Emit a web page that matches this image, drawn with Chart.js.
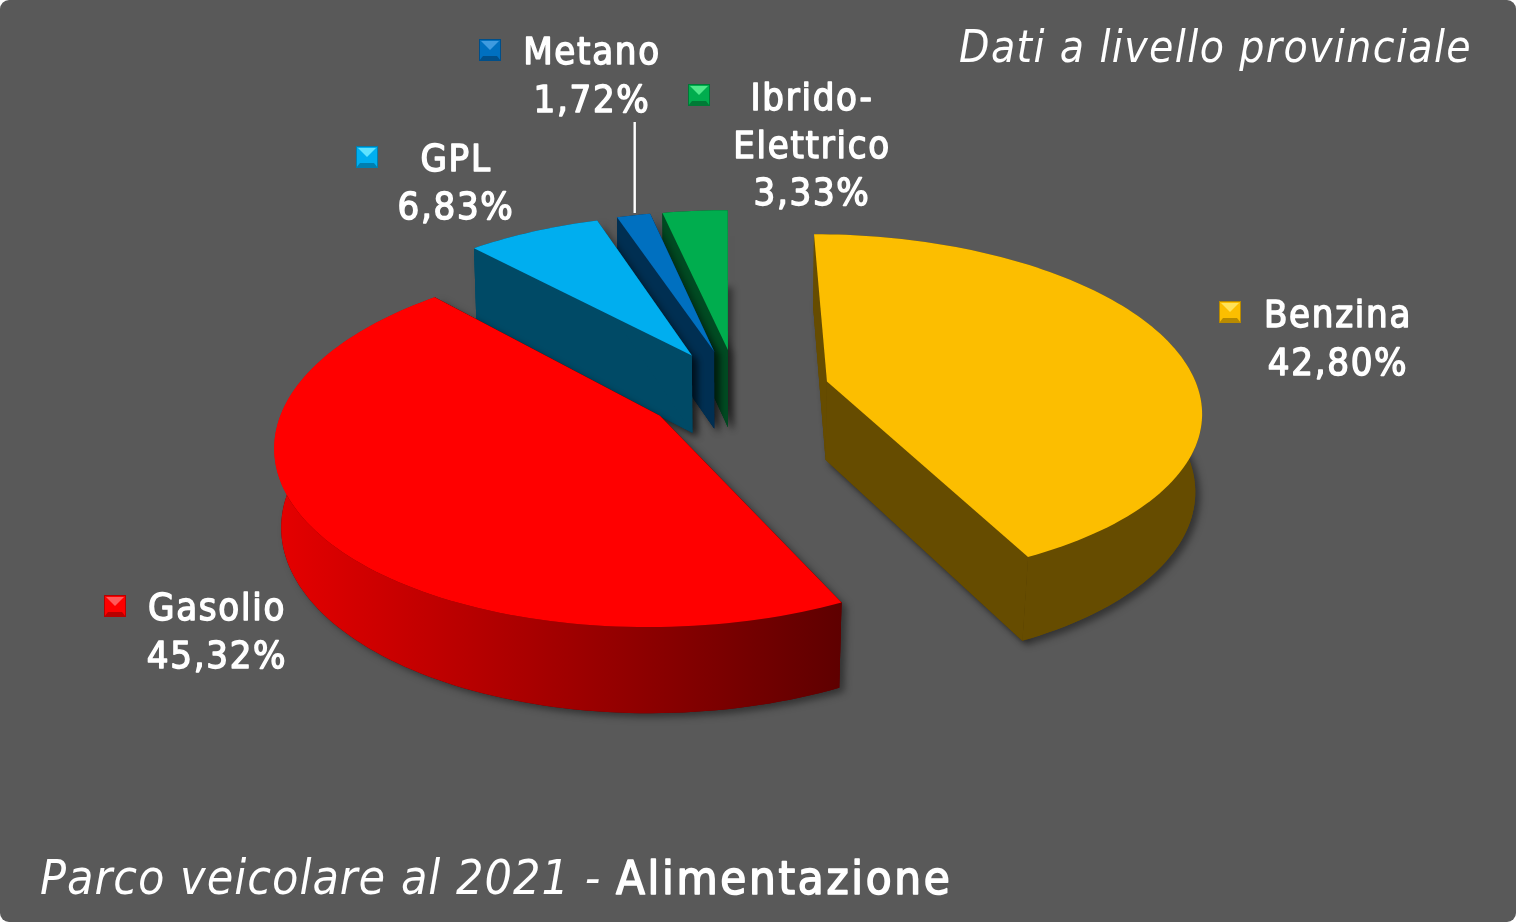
<!DOCTYPE html>
<html>
<head>
<meta charset="utf-8">
<title>Parco veicolare al 2021 - Alimentazione</title>
<script src="https://cdn.jsdelivr.net/npm/chart.js@4"></script>
<style>
	html, body { margin: 0; padding: 0; background: #fff; }
	#myChart { display: block; background: #595959; border-radius: 9px; }
</style>
</head>
<body>
<canvas id="myChart" width="1516" height="922"></canvas>
<script>
const categories = ['Benzina', 'Gasolio', 'GPL', 'Metano', 'Ibrido-Elettrico'];
const shares = [42.80, 45.32, 6.83, 1.72, 3.33];
const topColors = ['#FCBE00', '#FF0000', '#00AEEF', '#0070C0', '#00AD4E'];
const wallColors = [['#664C00', '#664C00'], ['#E60000', '#5E0000'], ['#004A66', '#004A66'], ['#002F52', '#002F52'], ['#004B22', '#004B22']];
const bevelColors = [['#FFE25A', '#B88A00'], ['#FF5A5A', '#B80000'], ['#5FE3FF', '#007FB0'], ['#3F9BE0', '#004F8A'], ['#4FE88A', '#007A36']];

const titleLeft = 'Parco veicolare al 2021 - ';
const titleBold = 'Alimentazione';
const subtitle = 'Dati a livello provinciale';

// label centre x, first line y, marker x, marker y
const labelSpots = [
	[1338, 317, 1219, 301],
	[217, 610, 104, 595],
	[456, 161, 356, 146],
	[592, 54, 479, 39],
	[812, 100, 688, 84]
];

const view = { cx: 726.5, cy: 401.5, sx: 375, sy: 175, k: 0.15, x0: 0.03, y0: -0.06 };

function project(x, y) {
	const w = 1 - view.k * (y + view.y0);
	return [view.cx + view.sx * (x + view.x0) / w, view.cy + view.sy * (y + view.y0) / w];
}

function dropDown(p) {
	const squeeze = 1 - (0.002 + 0.00003 * p[1]);
	return [view.cx + (p[0] - view.cx) * squeeze, p[1] + 66 + 0.032 * p[1]];
}

function tracePoly(ctx, pts) {
	ctx.beginPath();
	pts.forEach((p, i) => i ? ctx.lineTo(p[0], p[1]) : ctx.moveTo(p[0], p[1]));
	ctx.closePath();
}

function sliceGeometry(arc) {
	const mid = (arc.startAngle + arc.endAngle) / 2;
	const off = arc.options.offset / arc.outerRadius;
	const ax = off * Math.cos(mid);
	const ay = off * Math.sin(mid);
	const rim = [];
	const steps = Math.ceil((arc.endAngle - arc.startAngle) * 40);
	for (let i = 0; i <= steps; i++) {
		const a = arc.startAngle + (arc.endAngle - arc.startAngle) * i / steps;
		rim.push(project(ax + Math.cos(a), ay + Math.sin(a)));
	}
	return { apex: project(ax, ay), rim: rim };
}

function drawMarker(ctx, x, y, s, i) {
	const c = s / 2;
	ctx.fillStyle = topColors[i];
	ctx.fillRect(x, y, s, s);
	ctx.fillStyle = bevelColors[i][0];
	tracePoly(ctx, [[x + 2, y + 2], [x + s - 2, y + 2], [x + c, y + c]]);
	ctx.fill();
	ctx.fillStyle = bevelColors[i][1];
	tracePoly(ctx, [[x, y + s], [x + s, y + s], [x + s - 4, y + s - 5], [x + 4, y + s - 5]]);
	ctx.fill();
	ctx.strokeStyle = bevelColors[i][1];
	ctx.lineWidth = 1;
	ctx.strokeRect(x + 0.5, y + 0.5, s - 1, s - 1);
}

// regular face thickened by a thin stroke, the installed bold is too heavy
function heavyText(ctx, text, x, y, weight) {
	ctx.lineWidth = weight;
	ctx.lineJoin = 'round';
	ctx.strokeStyle = ctx.fillStyle;
	ctx.strokeText(text, x, y);
	ctx.fillText(text, x, y);
}

const pie3d = {
	id: 'pie3d',
	beforeDatasetDraw(chart) {
		const ctx = chart.ctx;
		const arcs = chart.getDatasetMeta(0).data;
		for (let i = arcs.length - 1; i >= 0; i--) {
			const { apex, rim } = sliceGeometry(arcs[i]);
			const lowRim = rim.map(dropDown);
			const lowApex = dropDown(apex);
			const xs = rim.map(p => p[0]);
			const wall = ctx.createLinearGradient(Math.min(...xs), 0, Math.max(...xs), 0);
			wall.addColorStop(0, wallColors[i][0]);
			wall.addColorStop(1, wallColors[i][1]);
			const firstCut = [apex, rim[0], lowRim[0], lowApex];
			const lastCut = [apex, rim[rim.length - 1], lowRim[lowRim.length - 1], lowApex];

			// soft shadow under the whole slice
			ctx.save();
			ctx.shadowColor = 'rgba(0,0,0,0.42)';
			ctx.shadowBlur = 7;
			ctx.shadowOffsetX = 5;
			ctx.shadowOffsetY = 4;
			ctx.fillStyle = wallColors[i][1];
			tracePoly(ctx, [lowApex, ...lowRim]);
			ctx.fill();
			tracePoly(ctx, firstCut);
			ctx.fill();
			tracePoly(ctx, lastCut);
			ctx.fill();
			ctx.restore();

			// cut faces
			ctx.fillStyle = wallColors[i][1];
			tracePoly(ctx, firstCut);
			ctx.fill();
			tracePoly(ctx, lastCut);
			ctx.fill();

			// outer wall
			ctx.fillStyle = wall;
			tracePoly(ctx, [...rim, ...lowRim.slice().reverse()]);
			ctx.fill();

			// top
			ctx.fillStyle = topColors[i];
			tracePoly(ctx, [apex, ...rim]);
			ctx.fill();
		}
		return false;
	},
	afterDraw(chart) {
		const ctx = chart.ctx;
		ctx.save();
		ctx.textBaseline = 'middle';
		ctx.textAlign = 'center';

		// leader of the Metano label
		ctx.fillStyle = '#fff';
		ctx.fillRect(633.5, 122, 2.4, 91);

		categories.forEach((name, i) => {
			const [lx, ly, mx, my] = labelSpots[i];
			const cut = name.indexOf('-') + 1;
			const lines = cut ? [name.slice(0, cut), name.slice(cut)] : [name];
			lines.push(shares[i].toFixed(2).replace('.', ',') + '%');
			drawMarker(ctx, mx, my, 22, i);
			ctx.save();
			ctx.font = '38px "DejaVu Sans Condensed"';
			ctx.letterSpacing = '1.7px';
			ctx.fillStyle = '#fff';
			lines.forEach((t, j) => heavyText(ctx, t, lx, ly + j * 47.7, 1.4));
			ctx.restore();
		});

		ctx.fillStyle = '#fff';
		ctx.textAlign = 'left';
		ctx.textBaseline = 'alphabetic';
		ctx.font = 'oblique 44px "DejaVu Sans Condensed"';
		ctx.letterSpacing = '1.4px';
		ctx.fillText(subtitle, 959, 62);
		ctx.font = 'oblique 48px "DejaVu Sans Condensed"';
		ctx.letterSpacing = '1px';
		ctx.fillText(titleLeft, 40, 894);
		const w = ctx.measureText(titleLeft).width;
		ctx.font = '47px "DejaVu Sans Condensed"';
		ctx.letterSpacing = '2.7px';
		heavyText(ctx, titleBold, 40 + w, 894, 1.6);
		ctx.restore();
	}
};

new Chart(document.getElementById('myChart').getContext('2d'), {
	type: 'pie',
	data: {
		labels: categories,
		datasets: [{
			data: shares,
			backgroundColor: topColors,
			borderWidth: 0,
			offset: 102
		}]
	},
	options: {
		responsive: false,
		animation: false,
		rotation: 0,
		plugins: {
			legend: { display: false },
			title: { display: false },
			tooltip: { enabled: false }
		}
	},
	plugins: [pie3d]
});
</script>
</body>
</html>
